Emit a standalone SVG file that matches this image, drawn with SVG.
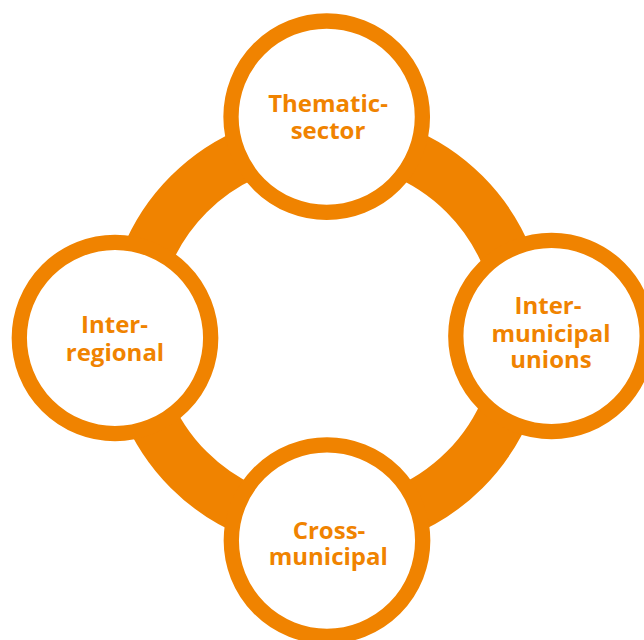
<svg xmlns="http://www.w3.org/2000/svg" width="644" height="640" viewBox="0 0 644 640">
  <style>
    .ring { fill: none; stroke: #F08300; stroke-width: 51; }
    .node circle { fill: #FFFFFF; stroke: #F08300; stroke-width: 15.3; }
    .node text { fill: #F08300; font-family: "Open Sans", "Liberation Sans", sans-serif; font-weight: 700; font-size: 24px; text-anchor: middle; }
  </style>
  <rect width="644" height="640" fill="#FFFFFF"/>
  <g id="connectors">
    <circle class="ring" cx="326.7" cy="332" r="195"/>
  </g>
  <g id="node-thematic" class="node">
    <circle cx="326.7" cy="116.7" r="95.7"/>
    <text><tspan x="328" y="111.7">Thematic-</tspan><tspan x="328" y="139.3">sector</tspan></text>
  </g>
  <g id="node-interregional" class="node">
    <circle cx="115" cy="338" r="95.7"/>
    <text><tspan x="114.5" y="333.3">Inter-</tspan><tspan x="115" y="360.7">regional</tspan></text>
  </g>
  <g id="node-intermunicipal" class="node">
    <circle cx="551.5" cy="336" r="95.7"/>
    <text><tspan x="548" y="314">Inter-</tspan><tspan x="551" y="341.7">municipal</tspan><tspan x="551" y="368.3">unions</tspan></text>
  </g>
  <g id="node-crossmunicipal" class="node">
    <circle cx="327" cy="540.6" r="95.7"/>
    <text><tspan x="329" y="539.3">Cross-</tspan><tspan x="328.3" y="565">municipal</tspan></text>
  </g>
</svg>
